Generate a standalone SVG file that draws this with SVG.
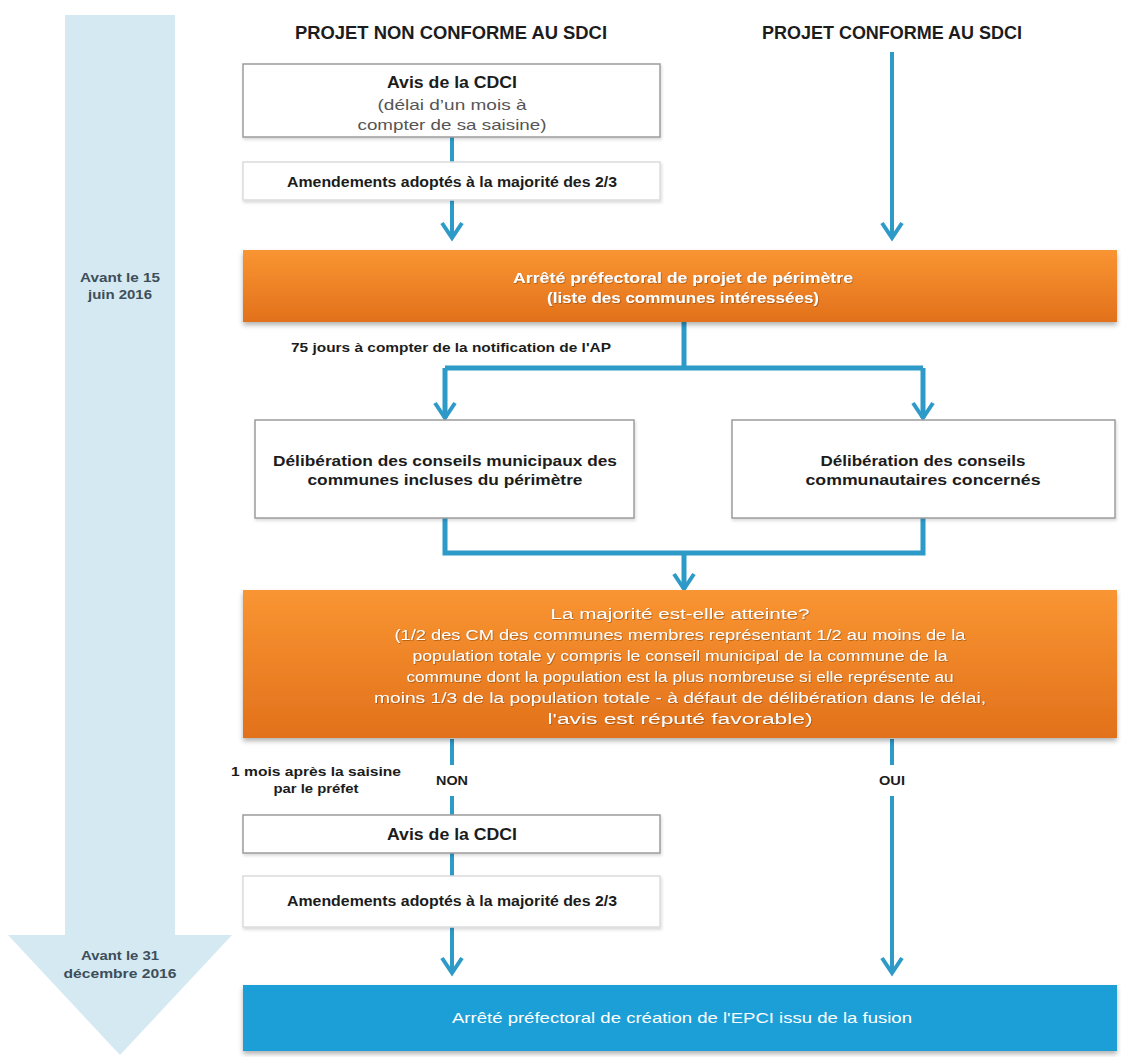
<svg xmlns="http://www.w3.org/2000/svg" width="1121" height="1057" viewBox="0 0 1121 1057">
<style>
text{font-family:"Liberation Sans",Arial,sans-serif;text-anchor:middle}
.hdr{font-size:18px;font-weight:bold;fill:#1c1c1c}
.b{font-weight:bold;fill:#1c1c1c}
.g{fill:#555;font-size:15px}
.tl{font-size:12.5px;font-weight:bold;fill:#3d4e5a}
.w{fill:#fff}
.box{fill:#fff;stroke:#9c9c9c;stroke-width:1.5}
.boxl{fill:#fff;stroke:#dcdcdc;stroke-width:1.5}
.c{fill:none;stroke:#2d9ac8;stroke-width:4}
.ct{fill:none;stroke:#2d9ac8;stroke-width:5}
.a{marker-end:url(#v)}
</style>
<defs>
<marker id="v" viewBox="0 0 22 24" refX="18" refY="12" markerWidth="22" markerHeight="24" markerUnits="userSpaceOnUse" orient="auto">
<path d="M3,2 L18,12 L3,22" fill="none" stroke="#2d9ac8" stroke-width="4"/>
</marker>
<linearGradient id="og" x1="0" y1="0" x2="0" y2="1">
<stop offset="0" stop-color="#f99532"/>
<stop offset="1" stop-color="#e2711b"/>
</linearGradient>
<filter id="sh" x="-5%" y="-20%" width="110%" height="150%">
<feDropShadow dx="0" dy="3" stdDeviation="2.5" flood-color="#000" flood-opacity="0.3"/>
</filter>
<filter id="shl" x="-5%" y="-20%" width="110%" height="150%">
<feDropShadow dx="1" dy="2" stdDeviation="1.5" flood-color="#000" flood-opacity="0.15"/>
</filter>
<filter id="ts" x="-5%" y="-30%" width="110%" height="160%">
<feDropShadow dx="0.8" dy="0.8" stdDeviation="0.6" flood-color="#7a3a00" flood-opacity="0.6"/>
</filter>
</defs>

<g id="timeline">
<polygon points="65,15 175,15 175,935 232,935 120,1055 8,935 65,935" fill="#d4e9f2"/>
<text class="tl" x="120" y="282" textLength="80" lengthAdjust="spacingAndGlyphs">Avant le 15</text>
<text class="tl" x="120" y="299" textLength="64" lengthAdjust="spacingAndGlyphs">juin 2016</text>
<text class="tl" x="120" y="960" textLength="78" lengthAdjust="spacingAndGlyphs">Avant le 31</text>
<text class="tl" x="120" y="978" textLength="113" lengthAdjust="spacingAndGlyphs">décembre 2016</text>
</g>

<g id="headers">
<text class="hdr" x="451" y="39" textLength="312" lengthAdjust="spacingAndGlyphs">PROJET NON CONFORME AU SDCI</text>
<text class="hdr" x="892" y="39" textLength="260" lengthAdjust="spacingAndGlyphs">PROJET CONFORME AU SDCI</text>
</g>

<g id="connectors">
<path class="c" d="M452,137 V162"/>
<path class="c a" d="M452,200 V238"/>
<path class="c a" d="M892,52 V238"/>
<path class="ct" d="M684,322 V368"/>
<path class="ct" d="M445,368 H923"/>
<path class="ct a" d="M445,368 V418"/>
<path class="ct a" d="M923,368 V418"/>
<path class="ct" d="M445,518 V553 H923 V518"/>
<path class="ct a" d="M684,553 V589"/>
<path class="c" d="M452,739 V765"/>
<path class="c" d="M452,796 V815"/>
<path class="c" d="M452,853 V876"/>
<path class="c a" d="M452,927 V973"/>
<path class="c" d="M892,739 V765"/>
<path class="c a" d="M892,796 V973"/>
</g>

<g id="avis1">
<rect class="box" x="243" y="64" width="417" height="73" filter="url(#shl)"/>
<text class="b" x="452" y="88" font-size="16" textLength="130" lengthAdjust="spacingAndGlyphs">Avis de la CDCI</text>
<text class="g" x="452" y="110" textLength="149" lengthAdjust="spacingAndGlyphs">(délai d’un mois à</text>
<text class="g" x="452" y="130" textLength="189" lengthAdjust="spacingAndGlyphs">compter de sa saisine)</text>
</g>

<g id="amend1">
<rect class="boxl" x="243" y="162" width="417" height="38" filter="url(#shl)"/>
<text class="b" x="452" y="187" font-size="14" textLength="330" lengthAdjust="spacingAndGlyphs">Amendements adoptés à la majorité des 2/3</text>
</g>

<g id="arrete-perimetre">
<rect x="243" y="250" width="874" height="72" fill="url(#og)" filter="url(#sh)"/>
<g filter="url(#ts)">
<text class="w" x="683" y="283" font-size="15" font-weight="bold" textLength="340" lengthAdjust="spacingAndGlyphs">Arrêté préfectoral de projet de périmètre</text>
<text class="w" x="683" y="303" font-size="15" font-weight="bold" textLength="272" lengthAdjust="spacingAndGlyphs">(liste des communes intéressées)</text>
</g>
</g>

<g id="label-75">
<text class="b" x="451" y="352" font-size="13" textLength="320" lengthAdjust="spacingAndGlyphs">75 jours à compter de la notification de l'AP</text>
</g>

<g id="delib-municipaux">
<rect class="box" x="255" y="420" width="379" height="98" filter="url(#shl)"/>
<text class="b" x="445" y="466" font-size="15" textLength="344" lengthAdjust="spacingAndGlyphs">Délibération des conseils municipaux des</text>
<text class="b" x="445" y="485" font-size="15" textLength="275" lengthAdjust="spacingAndGlyphs">communes incluses du périmètre</text>
</g>

<g id="delib-communautaires">
<rect class="box" x="732" y="420" width="383" height="98" filter="url(#shl)"/>
<text class="b" x="923" y="466" font-size="15" textLength="205" lengthAdjust="spacingAndGlyphs">Délibération des conseils</text>
<text class="b" x="923" y="485" font-size="15" textLength="235" lengthAdjust="spacingAndGlyphs">communautaires concernés</text>
</g>

<g id="majorite">
<rect x="243" y="590" width="874" height="148" fill="url(#og)" filter="url(#sh)"/>
<g filter="url(#ts)" font-size="15.5">
<text class="w" x="680" y="619" textLength="259" lengthAdjust="spacingAndGlyphs">La majorité est-elle atteinte?</text>
<text class="w" x="680" y="640" textLength="571" lengthAdjust="spacingAndGlyphs">(1/2 des CM des communes membres représentant 1/2 au moins de la</text>
<text class="w" x="680" y="661" textLength="535" lengthAdjust="spacingAndGlyphs">population totale y compris le conseil municipal de la commune de la</text>
<text class="w" x="680" y="682" textLength="547" lengthAdjust="spacingAndGlyphs">commune dont la population est la plus nombreuse si elle représente au</text>
<text class="w" x="680" y="703" textLength="612" lengthAdjust="spacingAndGlyphs">moins 1/3 de la population totale - à défaut de délibération dans le délai,</text>
<text class="w" x="680" y="724" textLength="265" lengthAdjust="spacingAndGlyphs">l'avis est réputé favorable)</text>
</g>
</g>

<g id="labels-branches">
<text class="b" x="316" y="776" font-size="12.5" textLength="170" lengthAdjust="spacingAndGlyphs">1 mois après la saisine</text>
<text class="b" x="316" y="793" font-size="12.5" textLength="85" lengthAdjust="spacingAndGlyphs">par le préfet</text>
<text class="b" x="452" y="785" font-size="12" textLength="32" lengthAdjust="spacingAndGlyphs">NON</text>
<text class="b" x="892" y="785" font-size="12" textLength="26" lengthAdjust="spacingAndGlyphs">OUI</text>
</g>

<g id="avis2">
<rect class="box" x="243" y="815" width="417" height="38" filter="url(#shl)"/>
<text class="b" x="452" y="840" font-size="16" textLength="130" lengthAdjust="spacingAndGlyphs">Avis de la CDCI</text>
</g>

<g id="amend2">
<rect class="boxl" x="243" y="876" width="417" height="51" filter="url(#shl)"/>
<text class="b" x="452" y="906" font-size="14" textLength="330" lengthAdjust="spacingAndGlyphs">Amendements adoptés à la majorité des 2/3</text>
</g>

<g id="arrete-creation">
<rect x="243" y="985" width="874" height="66" fill="#1a9fd6" filter="url(#sh)"/>
<text class="w" x="682" y="1023" font-size="15" textLength="460" lengthAdjust="spacingAndGlyphs">Arrêté préfectoral de création de l'EPCI issu de la fusion</text>
</g>
</svg>
